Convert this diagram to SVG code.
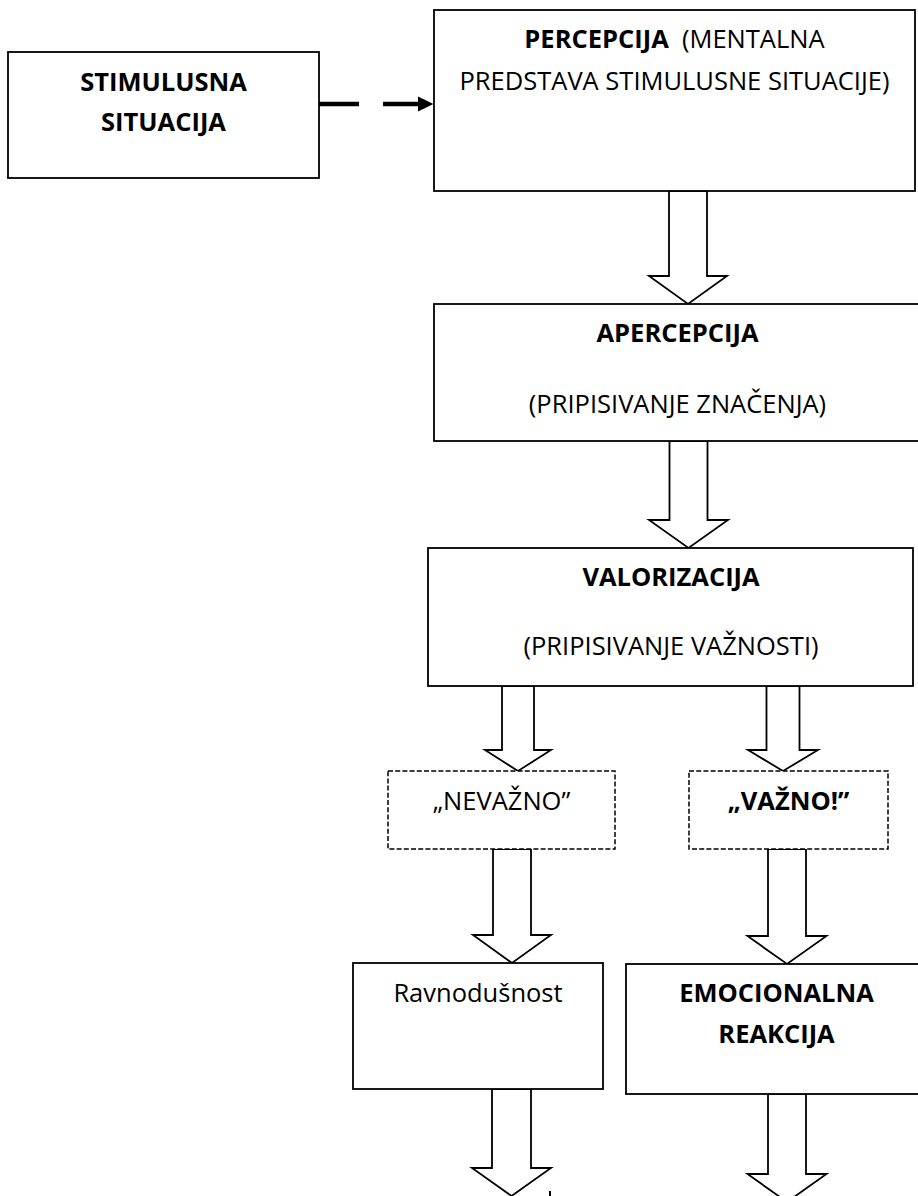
<svg xmlns="http://www.w3.org/2000/svg" width="918" height="1196" viewBox="0 0 918 1196">
<style>
.box{fill:#fff;stroke:#000;stroke-width:1.8}
.dbox{fill:#fff;stroke:#000;stroke-width:1.5;stroke-dasharray:5 2.2}
.arr{fill:#fff;stroke:#000;stroke-width:1.8;stroke-linejoin:miter}
text{font-family:"Open Sans","Liberation Sans",sans-serif;font-size:25.5px;fill:#000;text-anchor:middle}
.b{font-weight:bold}
</style>
<rect width="918" height="1196" fill="#fff"/>
<g id="connectors">
<path d="M317,104 H359 M383,104 H420" stroke="#000" stroke-width="4.5" fill="none"/>
<polygon points="418,96.5 433.5,104 418,111.5" fill="#000"/>
<polygon class="arr" points="669,191 707,191 707,276 727,276 688,304 649,276 669,276"/>
<polygon class="arr" points="669.5,441 707.5,441 707.5,520 728,520 688.5,548 649,520 669.5,520"/>
<polygon class="arr" points="502,686 534,686 534,750 551,750 518,771 485,750 502,750"/>
<polygon class="arr" points="766.5,686 799.5,686 799.5,750 818,750 783,771 748,750 766.5,750"/>
<polygon class="arr" points="493,849 531,849 531,935 551,935 512,963 473,935 493,935"/>
<polygon class="arr" points="768,849 806,849 806,936 826.5,936 787,964 747.5,936 768,936"/>
<polygon class="arr" points="492,1089 531,1089 531,1168 551,1168 511.5,1196 472,1168 492,1168"/>
<polygon class="arr" points="768,1094 806,1094 806,1174 826.5,1174 787,1202 747.5,1174 768,1174"/>
<rect x="549" y="1191" width="2" height="5" fill="#000"/>
</g>
<g id="stimulusna">
<rect class="box" x="8" y="52" width="311" height="126"/>
<text class="b" x="163.5" y="91">STIMULUSNA</text>
<text class="b" x="163.5" y="131">SITUACIJA</text>
</g>
<g id="percepcija">
<rect class="box" x="434" y="10" width="481" height="181"/>
<text x="674.5" y="48" xml:space="preserve"><tspan class="b">PERCEPCIJA</tspan>  (MENTALNA</text>
<text x="674.5" y="90">PREDSTAVA STIMULUSNE SITUACIJE)</text>
</g>
<g id="apercepcija">
<rect class="box" x="434" y="304" width="487" height="137"/>
<text class="b" x="677.5" y="342">APERCEPCIJA</text>
<text x="677.5" y="413">(PRIPISIVANJE ZNAČENJA)</text>
</g>
<g id="valorizacija">
<rect class="box" x="428" y="548" width="485" height="138"/>
<text class="b" x="671" y="586">VALORIZACIJA</text>
<text x="671" y="655">(PRIPISIVANJE VAŽNOSTI)</text>
</g>
<g id="nevazno">
<rect class="dbox" x="388" y="771" width="227" height="78"/>
<text x="501.5" y="810">„NEVAŽNO”</text>
</g>
<g id="vazno">
<rect class="dbox" x="689" y="771" width="199" height="78"/>
<text class="b" x="788.5" y="810">„VAŽNO!”</text>
</g>
<g id="ravnodusnost">
<rect class="box" x="353" y="963" width="250" height="126"/>
<text x="478" y="1002">Ravnodušnost</text>
</g>
<g id="emocionalna">
<rect class="box" x="626" y="964" width="301" height="130"/>
<text class="b" x="776.5" y="1002">EMOCIONALNA</text>
<text class="b" x="776.5" y="1043">REAKCIJA</text>
</g>
</svg>
